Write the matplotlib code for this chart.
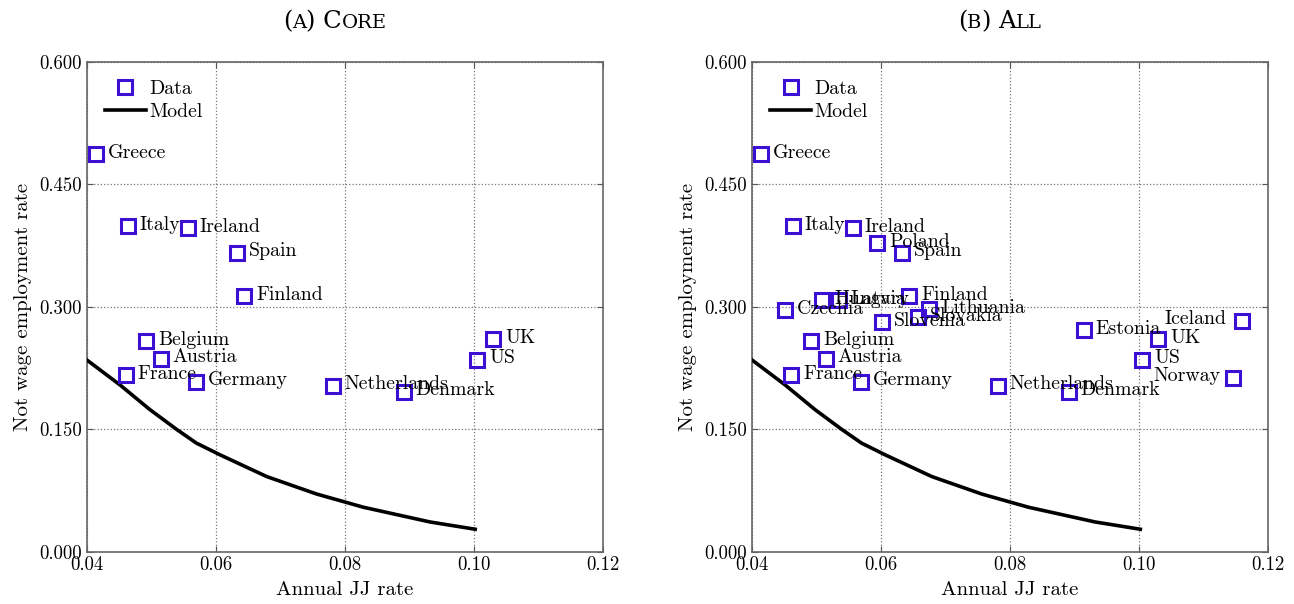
import matplotlib
matplotlib.use('Agg')
import matplotlib.pyplot as plt
import numpy as np

plt.rcParams['font.family'] = ['cmr10', 'DejaVu Serif']
plt.rcParams['axes.formatter.use_mathtext'] = True

# model curve (same in both panels)
model_x = [0.0400, 0.0452, 0.0498, 0.0539, 0.0570, 0.0607, 0.0679, 0.0756, 0.0829, 0.0932, 0.1002]
model_y = [0.235, 0.204, 0.174, 0.150, 0.133, 0.1185, 0.092, 0.0707, 0.0544, 0.0364, 0.0275]

# core countries
core_names = ['Greece', 'Italy', 'Ireland', 'Spain', 'Finland', 'Belgium', 'Austria',
              'France', 'Germany', 'Netherlands', 'Denmark', 'UK', 'US']
core_x = [0.0415, 0.0464, 0.0557, 0.0633, 0.0644, 0.0492, 0.0515,
          0.0461, 0.0569, 0.0781, 0.0891, 0.1030, 0.1005]
core_y = [0.487, 0.399, 0.396, 0.366, 0.313, 0.258, 0.2366,
          0.2165, 0.208, 0.2035, 0.196, 0.260, 0.235]

# extra countries in the "all" sample
extra_names = ['Czechia', 'Hungary', 'Latvia', 'Poland', 'Slovenia', 'Slovakia',
               'Lithuania', 'Estonia', 'Iceland', 'Norway']
extra_x = [0.0452, 0.0509, 0.0535, 0.0594, 0.0602, 0.0657, 0.0675, 0.0914, 0.1159, 0.1146]
extra_y = [0.296, 0.308, 0.308, 0.378, 0.281, 0.287, 0.297, 0.271, 0.283, 0.213]
left_labels = {'Iceland': -11, 'Norway': -9}

xticks = [0.04, 0.06, 0.08, 0.10, 0.12]
yticks = [0.0, 0.15, 0.30, 0.45, 0.60]

blue = '#3c10d4'
fs = 14.3


def setup(ax, names, xs, ys):
    ax.plot(model_x, model_y, color='black', lw=2.6, label='Model', zorder=3)
    ax.plot(xs, ys, ls='none', marker='s', ms=9.5, mfc='none', mec=blue, mew=2.2,
            label='Data', zorder=4)
    for n, x, y in zip(names, xs, ys):
        if n in left_labels:
            ax.annotate(n, (x, y), xytext=(left_labels[n], 1), textcoords='offset points',
                        ha='right', va='center', fontsize=fs, zorder=5)
        else:
            ax.annotate(n, (x, y), xytext=(8.5, 1), textcoords='offset points',
                        ha='left', va='center', fontsize=fs, zorder=5)
    ax.set_xlim(0.04, 0.12)
    ax.set_ylim(0, 0.6)
    ax.set_xticks(xticks)
    ax.set_xticklabels(['%.2f' % v for v in xticks])
    ax.set_yticks(yticks)
    ax.set_yticklabels(['%.3f' % v for v in yticks])
    ax.tick_params(direction='in', length=4, labelsize=13.5, color='#555555',
                   top=True, right=True)
    ax.grid(True, ls=':', color='#777777', lw=0.9)
    for s in ax.spines.values():
        s.set_color('#666666')
        s.set_linewidth(1.2)
    ax.set_xlabel('Annual JJ rate', fontsize=15, labelpad=5)
    ax.set_ylabel('Not wage employment rate', fontsize=15, labelpad=5)
    h, l = ax.get_legend_handles_labels()
    ax.legend(h[::-1], l[::-1], loc='upper left', frameon=False, fontsize=fs,
              handlelength=2.1, handletextpad=0.15, labelspacing=0.25,
              borderaxespad=0.5)


def smallcaps_title(fig, ax, parts):
    # parts: list of (text, size); drawn side by side, centred a bit left of the axes
    r = fig.canvas.get_renderer()
    bb = ax.get_position()
    xc = (bb.x0 + bb.x1) / 2 - 10 / fig.bbox.width
    y = 1 - 28 / fig.bbox.height
    arts = []
    for t, s in parts:
        arts.append(fig.text(0, y, t, fontsize=s, family='DejaVu Serif',
                             ha='left', va='baseline'))
    widths = [a.get_window_extent(r).width / fig.bbox.width for a in arts]
    x = xc - sum(widths) / 2
    for a, w in zip(arts, widths):
        a.set_x(x)
        x += w


fig = plt.figure(figsize=(12.94, 6.04), dpi=100)
ax1 = fig.add_axes([0.067, 0.0866, 0.399, 0.811])
ax2 = fig.add_axes([0.581, 0.0866, 0.399, 0.811])

setup(ax1, core_names, core_x, core_y)
setup(ax2, core_names + extra_names, core_x + extra_x, core_y + extra_y)

smallcaps_title(fig, ax1, [('(', 17.5), ('A', 14), (') C', 17.5), ('ORE', 14)])
smallcaps_title(fig, ax2, [('(', 17.5), ('B', 14), (') A', 17.5), ('LL', 14)])

fig.savefig('out.png', dpi=100)
